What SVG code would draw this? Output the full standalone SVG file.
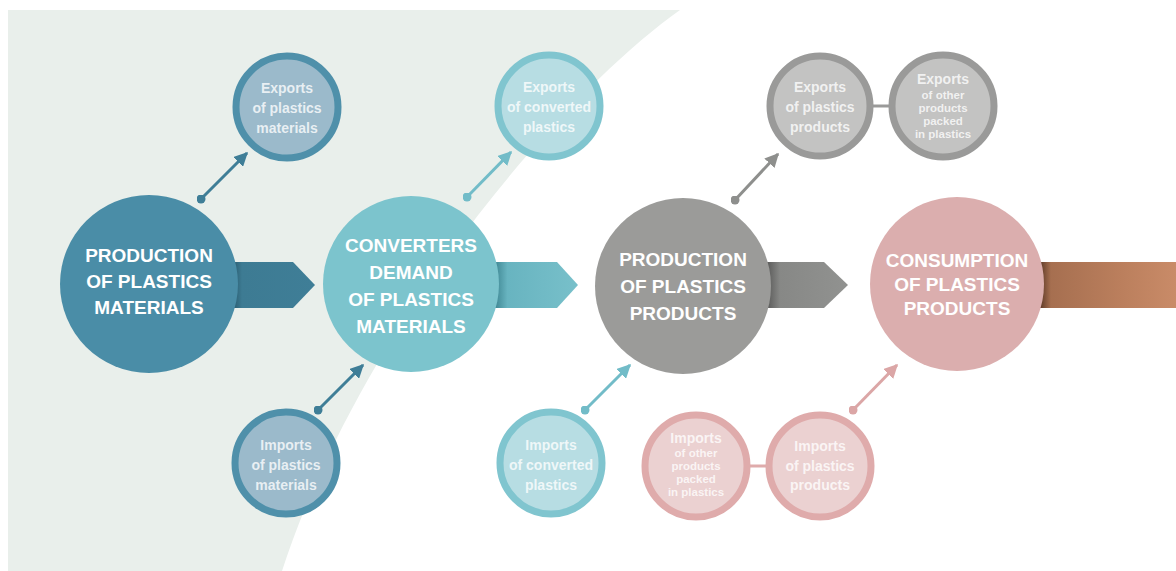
<svg xmlns="http://www.w3.org/2000/svg" width="1176" height="571" viewBox="0 0 1176 571">
<defs>
<style>
.big{font-family:"Liberation Sans",Arial,sans-serif;font-weight:bold;font-size:19px;fill:#ffffff;text-anchor:middle}
.sm{font-family:"Liberation Sans",Arial,sans-serif;font-weight:bold;font-size:14px;fill:#ffffff;fill-opacity:0.78;text-anchor:middle}
.xs{font-family:"Liberation Sans",Arial,sans-serif;font-weight:bold;font-size:11.5px;fill:#ffffff;fill-opacity:0.78;text-anchor:middle}
.ring{stroke-width:7}
.t1{fill:#9bbacb;stroke:#4f90aa}
.t2{fill:#b7dde3;stroke:#80c5cf}
.g{fill:#c3c3c2;stroke:#9a9a99}
.p{fill:#ebd1d1;stroke:#dfabab}
</style>
<linearGradient id="ga1" x1="232" y1="0" x2="315" y2="0" gradientUnits="userSpaceOnUse">
<stop offset="0" stop-color="#28586b"/><stop offset="0.12" stop-color="#3d7b93"/><stop offset="1" stop-color="#3f7e97"/>
</linearGradient>
<linearGradient id="ga2" x1="495" y1="0" x2="578" y2="0" gradientUnits="userSpaceOnUse">
<stop offset="0" stop-color="#3f8793"/><stop offset="0.15" stop-color="#68b4c0"/><stop offset="1" stop-color="#78c0ca"/>
</linearGradient>
<linearGradient id="ga3" x1="768" y1="0" x2="848" y2="0" gradientUnits="userSpaceOnUse">
<stop offset="0" stop-color="#5e5e5d"/><stop offset="0.15" stop-color="#878886"/><stop offset="1" stop-color="#919290"/>
</linearGradient>
<linearGradient id="ga4" x1="1040" y1="0" x2="1176" y2="0" gradientUnits="userSpaceOnUse">
<stop offset="0" stop-color="#5e3a28"/><stop offset="0.08" stop-color="#a66f50"/><stop offset="0.6" stop-color="#bb7f5d"/><stop offset="1" stop-color="#c98b68"/>
</linearGradient>
<marker id="h1" viewBox="0 0 10 10" refX="9" refY="5" markerWidth="14" markerHeight="14" markerUnits="userSpaceOnUse" orient="auto"><path d="M0,0 L10,5 L0,10 Z" fill="#3f7e97"/></marker>
<marker id="d1" viewBox="0 0 10 10" refX="5" refY="5" markerWidth="9" markerHeight="9" markerUnits="userSpaceOnUse"><circle cx="5" cy="5" r="5" fill="#3f7e97"/></marker>
<marker id="h2" viewBox="0 0 10 10" refX="9" refY="5" markerWidth="14" markerHeight="14" markerUnits="userSpaceOnUse" orient="auto"><path d="M0,0 L10,5 L0,10 Z" fill="#72bcc8"/></marker>
<marker id="d2" viewBox="0 0 10 10" refX="5" refY="5" markerWidth="9" markerHeight="9" markerUnits="userSpaceOnUse"><circle cx="5" cy="5" r="5" fill="#72bcc8"/></marker>
<marker id="h3" viewBox="0 0 10 10" refX="9" refY="5" markerWidth="14" markerHeight="14" markerUnits="userSpaceOnUse" orient="auto"><path d="M0,0 L10,5 L0,10 Z" fill="#8e8f8d"/></marker>
<marker id="d3" viewBox="0 0 10 10" refX="5" refY="5" markerWidth="9" markerHeight="9" markerUnits="userSpaceOnUse"><circle cx="5" cy="5" r="5" fill="#8e8f8d"/></marker>
<marker id="h4" viewBox="0 0 10 10" refX="9" refY="5" markerWidth="14" markerHeight="14" markerUnits="userSpaceOnUse" orient="auto"><path d="M0,0 L10,5 L0,10 Z" fill="#dba6a6"/></marker>
<marker id="d4" viewBox="0 0 10 10" refX="5" refY="5" markerWidth="9" markerHeight="9" markerUnits="userSpaceOnUse"><circle cx="5" cy="5" r="5" fill="#dba6a6"/></marker>
</defs>
<rect width="1176" height="571" fill="#ffffff"/>
<path d="M8,10 H680 C560,95 360,330 282,571 H8 Z" fill="#e9efeb"/>

<g id="flow-arrows">
<path d="M225,262 H293 L315,285 L293,308 H225 Z" fill="url(#ga1)"/>
<path d="M488,262 H557 L578,285 L557,308 H488 Z" fill="url(#ga2)"/>
<path d="M762,262 H824 L848,285 L824,308 H762 Z" fill="url(#ga3)"/>
<rect x="1034" y="262" width="142" height="46" fill="url(#ga4)"/>
</g>

<g id="connectors" stroke-width="3" fill="none">
<line x1="201" y1="199" x2="247" y2="153" stroke="#3f7e97" marker-start="url(#d1)" marker-end="url(#h1)"/>
<line x1="318" y1="410" x2="363" y2="365" stroke="#3f7e97" marker-start="url(#d1)" marker-end="url(#h1)"/>
<line x1="467" y1="197" x2="511" y2="152" stroke="#72bcc8" marker-start="url(#d2)" marker-end="url(#h2)"/>
<line x1="585" y1="410" x2="630" y2="365" stroke="#72bcc8" marker-start="url(#d2)" marker-end="url(#h2)"/>
<line x1="735" y1="200" x2="778" y2="154" stroke="#8e8f8d" marker-start="url(#d3)" marker-end="url(#h3)"/>
<line x1="853" y1="410" x2="897" y2="365" stroke="#dba6a6" marker-start="url(#d4)" marker-end="url(#h4)"/>
<line x1="870" y1="106" x2="892" y2="106" stroke="#9a9a99"/>
<line x1="746" y1="466" x2="770" y2="466" stroke="#dfabab"/>
</g>

<g id="production-materials">
<circle cx="149" cy="284" r="89" fill="#4a8da7"/>
<text class="big" x="149" y="262">PRODUCTION</text>
<text class="big" x="149" y="288">OF PLASTICS</text>
<text class="big" x="149" y="314">MATERIALS</text>
</g>

<g id="converters-demand">
<circle cx="411" cy="284" r="88" fill="#7cc4cd"/>
<text class="big" x="411" y="252">CONVERTERS</text>
<text class="big" x="411" y="279">DEMAND</text>
<text class="big" x="411" y="306">OF PLASTICS</text>
<text class="big" x="411" y="333">MATERIALS</text>
</g>

<g id="production-products">
<circle cx="683" cy="286" r="88" fill="#9b9b99"/>
<text class="big" x="683" y="266">PRODUCTION</text>
<text class="big" x="683" y="293">OF PLASTICS</text>
<text class="big" x="683" y="320">PRODUCTS</text>
</g>

<g id="consumption">
<circle cx="957" cy="284" r="87" fill="#dbaeae"/>
<text class="big" x="957" y="267">CONSUMPTION</text>
<text class="big" x="957" y="291">OF PLASTICS</text>
<text class="big" x="957" y="315">PRODUCTS</text>
</g>

<g id="exports-materials">
<circle class="ring t1" cx="287" cy="107" r="51"/>
<text class="sm" x="287" y="93">Exports</text>
<text class="sm" x="287" y="113">of plastics</text>
<text class="sm" x="287" y="133">materials</text>
</g>

<g id="imports-materials">
<circle class="ring t1" cx="286" cy="463" r="51"/>
<text class="sm" x="286" y="450">Imports</text>
<text class="sm" x="286" y="470">of plastics</text>
<text class="sm" x="286" y="490">materials</text>
</g>

<g id="exports-converted">
<circle class="ring t2" cx="549" cy="106" r="51"/>
<text class="sm" x="549" y="92">Exports</text>
<text class="sm" x="549" y="112">of converted</text>
<text class="sm" x="549" y="132">plastics</text>
</g>

<g id="imports-converted">
<circle class="ring t2" cx="551" cy="463" r="51"/>
<text class="sm" x="551" y="450">Imports</text>
<text class="sm" x="551" y="470">of converted</text>
<text class="sm" x="551" y="490">plastics</text>
</g>

<g id="exports-products">
<circle class="ring g" cx="820" cy="106" r="50"/>
<text class="sm" x="820" y="92">Exports</text>
<text class="sm" x="820" y="112">of plastics</text>
<text class="sm" x="820" y="132">products</text>
</g>

<g id="exports-other">
<circle class="ring g" cx="943" cy="106" r="51"/>
<text class="sm" x="943" y="84">Exports</text>
<text class="xs" x="943" y="99">of other</text>
<text class="xs" x="943" y="112">products</text>
<text class="xs" x="943" y="125">packed</text>
<text class="xs" x="943" y="138">in plastics</text>
</g>

<g id="imports-other">
<circle class="ring p" cx="696" cy="466" r="51"/>
<text class="sm" x="696" y="443">Imports</text>
<text class="xs" x="696" y="457">of other</text>
<text class="xs" x="696" y="470">products</text>
<text class="xs" x="696" y="483">packed</text>
<text class="xs" x="696" y="496">in plastics</text>
</g>

<g id="imports-products">
<circle class="ring p" cx="820" cy="466" r="51"/>
<text class="sm" x="820" y="451">Imports</text>
<text class="sm" x="820" y="471">of plastics</text>
<text class="sm" x="820" y="490">products</text>
</g>
</svg>
